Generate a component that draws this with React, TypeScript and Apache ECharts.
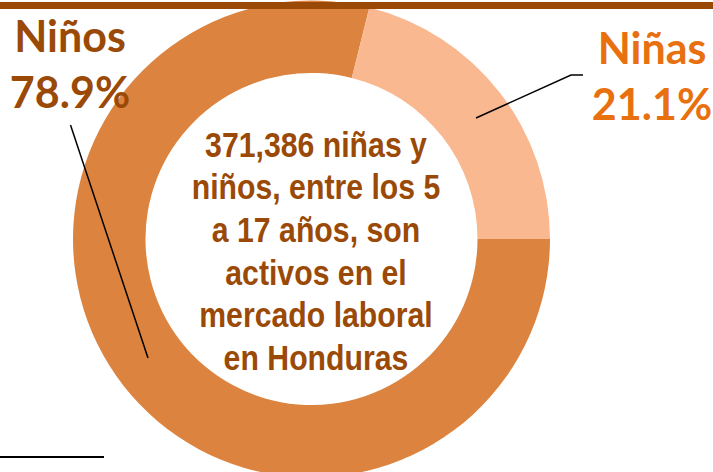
import React, { useEffect, useRef } from "react";
import * as echarts from "echarts";

const categories = ["Niños", "Niñas"];
const values = [78.9, 21.1];
const sliceColors = ["#DC843F", "#F9B890"];
const labelColors = ["#9A4A06", "#E8700F"];
const centerLines = [
  "371,386 niñas y",
  "niños, entre los 5",
  "a 17 años, son",
  "activos en el",
  "mercado laboral",
  "en Honduras",
];

export default function App() {
  const ref = useRef<HTMLDivElement>(null);
  useEffect(() => {
    document.body.style.margin = "0";
    const chart = echarts.init(ref.current!, null, { renderer: "svg" });
    chart.setOption({
      animation: false,
      backgroundColor: "#ffffff",
      series: [
        {
          type: "pie",
          center: [311.5, 239],
          radius: [166, 238.5],
          startAngle: 0,
          clockwise: true,
          silent: true,
          label: { show: false },
          labelLine: { show: false },
          emphasis: { disabled: true },
          data: categories.map((c, i) => ({
            name: c,
            value: values[i],
            itemStyle: { color: sliceColors[i] },
          })),
        },
      ],
      graphic: [
        {
          type: "rect",
          z: 10,
          shape: { x: 0, y: 2, width: 713, height: 7 },
          style: { fill: "#9A4A06" },
        },
        {
          type: "line",
          z: 10,
          shape: { x1: 0, y1: 457, x2: 104, y2: 457 },
          style: { stroke: "#000000", lineWidth: 2 },
        },
        {
          type: "polyline",
          z: 10,
          shape: { points: [[70.5, 125], [148, 358]] },
          style: { stroke: "#000000", lineWidth: 1.5, fill: null },
        },
        {
          type: "polyline",
          z: 10,
          shape: { points: [[476, 118], [571, 75], [583, 75]] },
          style: { stroke: "#000000", lineWidth: 1.5, fill: null },
        },
        {
          type: "text",
          z: 10,
          x: 70,
          y: 63.5,
          style: {
            text: `${categories[0]}\n${values[0]}%`,
            fill: labelColors[0],
            font: "bold 43px Lato",
            lineHeight: 56,
            align: "center",
            verticalAlign: "middle",
          },
        },
        {
          type: "text",
          z: 10,
          x: 652,
          y: 75,
          style: {
            text: `${categories[1]}\n${values[1]}%`,
            fill: labelColors[1],
            font: "bold 43px Lato",
            lineHeight: 56,
            align: "center",
            verticalAlign: "middle",
          },
        },
        {
          type: "text",
          z: 10,
          x: 316,
          y: 251,
          scaleX: 0.84,
          style: {
            text: centerLines.join("\n"),
            fill: "#9A4A06",
            font: "bold 36px 'Liberation Sans', Arial, sans-serif",
            lineHeight: 42.7,
            align: "center",
            verticalAlign: "middle",
          },
        },
      ],
    });
    return () => chart.dispose();
  }, []);
  return <div ref={ref} style={{ width: 713, height: 472 }} />;
}
